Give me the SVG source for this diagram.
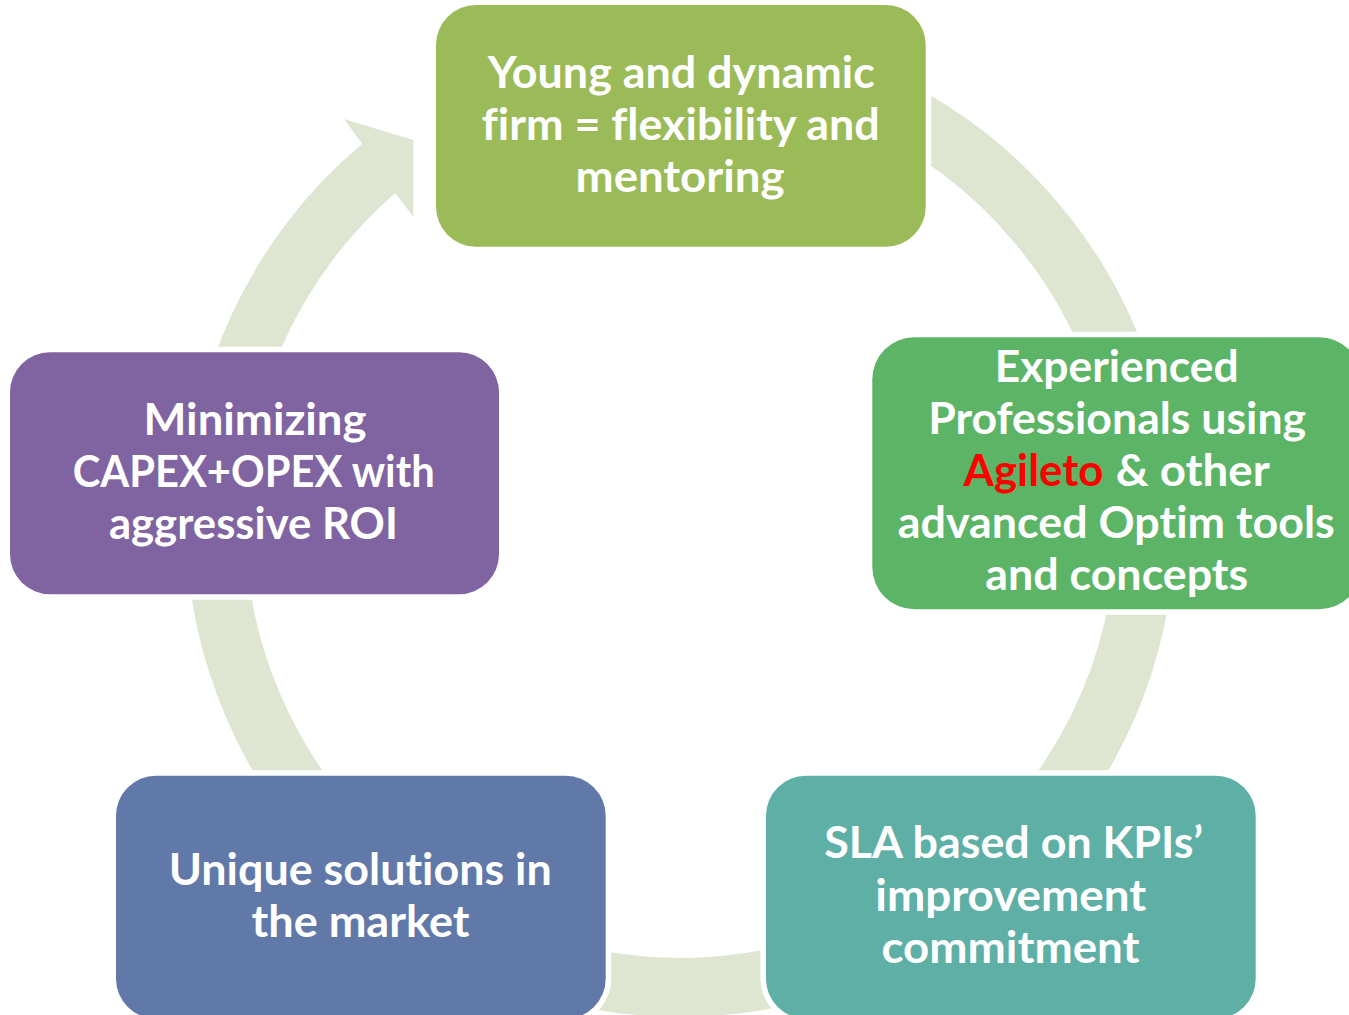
<svg xmlns="http://www.w3.org/2000/svg" width="1349" height="1015" viewBox="0 0 1349 1015">
<style>
.box{stroke:#FFFFFF;stroke-width:11;paint-order:stroke;}
.t{font-family:Lato,"Open Sans","Liberation Sans",sans-serif;font-weight:700;font-size:43px;fill:#FFFFFF;text-anchor:middle;font-variant-ligatures:none;font-feature-settings:"liga" 0,"clig" 0,"dlig" 0;}
.ts{text-anchor:start;}
.red{fill:#FF0000;}
.ring{fill:none;stroke:#DEE6D1;stroke-width:59;}
.arrow{fill:#DEE6D1;}
</style>
<rect width="1349" height="1015" fill="#FFFFFF"/>
<g id="connectors">
<path class="ring" d="M 483.9 100.8 A 465.1 465.1 0 1 1 215.4 522.3"/>
<path class="arrow" d="M 185.9 522.3 A 494.6 494.6 0 0 1 362.1 143.8 L 344 119 L 413.3 140 L 413.3 216.7 L 395.3 193 A 435.6 435.6 0 0 0 244.9 522.3 Z"/>
</g>
<g id="node-young">
<rect class="box" x="436" y="5" width="489.7" height="241.7" rx="40" fill="#9BBB59"/>
<text class="t" x="681.3" y="87.5" textLength="387" lengthAdjust="spacingAndGlyphs">Young and dynamic</text>
<text class="t" x="680.8" y="139.5" textLength="398" lengthAdjust="spacingAndGlyphs">firm = flexibility and</text>
<text class="t" x="680" y="191.5" textLength="209" lengthAdjust="spacingAndGlyphs">mentoring</text>
</g>
<g id="node-experienced">
<rect class="box" x="872.3" y="337.3" width="489" height="272" rx="42" fill="#5CB466"/>
<text class="t" x="1116.7" y="381.7" textLength="244" lengthAdjust="spacingAndGlyphs">Experienced</text>
<text class="t" x="1117.2" y="433.5" textLength="378" lengthAdjust="spacingAndGlyphs">Professionals using</text>
<text class="t ts red" x="963.5" y="485.7" textLength="140" lengthAdjust="spacingAndGlyphs">Agileto</text>
<text class="t ts" x="1115.7" y="485.7" textLength="154" lengthAdjust="spacingAndGlyphs">&amp; other</text>
<text class="t" x="1116.3" y="538.2" textLength="437" lengthAdjust="spacingAndGlyphs">advanced Optim tools</text>
<text class="t" x="1116.7" y="590.2" textLength="263" lengthAdjust="spacingAndGlyphs">and concepts</text>
</g>
<g id="node-sla">
<rect class="box" x="766" y="775.7" width="489.7" height="243" rx="40" fill="#5EAFA6"/>
<text class="t" x="1013.7" y="858.3" textLength="379" lengthAdjust="spacingAndGlyphs">SLA based on KPIs’</text>
<text class="t" x="1010.8" y="910.5" textLength="271" lengthAdjust="spacingAndGlyphs">improvement</text>
<text class="t" x="1010.5" y="963" textLength="258" lengthAdjust="spacingAndGlyphs">commitment</text>
</g>
<g id="node-unique">
<rect class="box" x="116" y="775.7" width="489.7" height="243" rx="40" fill="#6179A8"/>
<text class="t" x="360.3" y="885" textLength="383" lengthAdjust="spacingAndGlyphs">Unique solutions in</text>
<text class="t" x="360.5" y="936.8" textLength="218" lengthAdjust="spacingAndGlyphs">the market</text>
</g>
<g id="node-minimizing">
<rect class="box" x="10" y="352.3" width="489" height="242" rx="40" fill="#8064A2"/>
<text class="t" x="255" y="435" textLength="223" lengthAdjust="spacingAndGlyphs">Minimizing</text>
<text class="t" x="253.7" y="487" textLength="362" lengthAdjust="spacingAndGlyphs">CAPEX+OPEX with</text>
<text class="t" x="253.4" y="539" textLength="289" lengthAdjust="spacingAndGlyphs">aggressive ROI</text>
</g>
</svg>
